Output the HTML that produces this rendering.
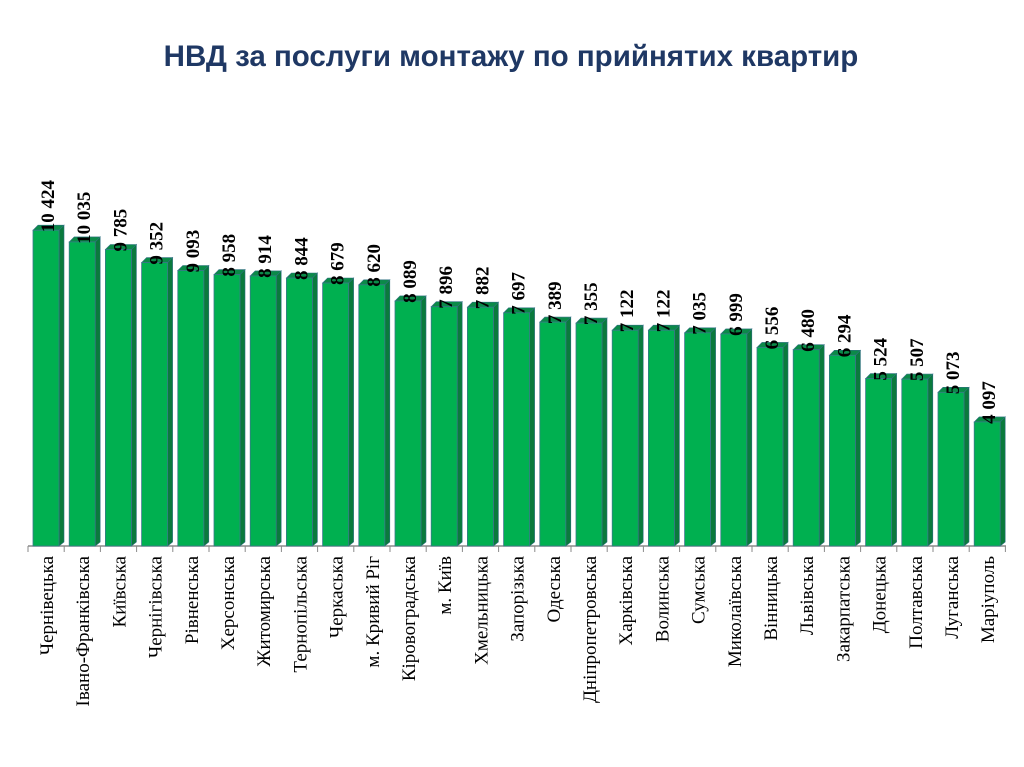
<!DOCTYPE html><html><head><meta charset="utf-8"><style>body{margin:0;background:#fff}svg{display:block}
.f{fill:#00b050;stroke:#3a7a8a;stroke-width:.8}.s{fill:#0a7a3c;stroke:#2f7080;stroke-width:.6}.t{fill:#0b8a48;stroke:#2f7080;stroke-width:.6}
.v{font-family:"Liberation Serif",serif;font-weight:bold;font-size:19px}.c{font-family:"Liberation Serif",serif;font-size:19px;text-anchor:end}</style></head><body>
<svg width="1024" height="767" xmlns="http://www.w3.org/2000/svg">
<text x="511" y="66" text-anchor="middle" font-family="Liberation Sans, sans-serif" font-weight="bold" font-size="29.5" fill="#1f3864">НВД за послуги монтажу по прийнятих квартир</text>
<line x1="28" y1="546" x2="1006" y2="546" stroke="#8a8a8a" stroke-width="1.5"/>
<path stroke="#8a8a8a" d="M28 546v6M64.2 546v6M100.4 546v6M136.6 546v6M172.8 546v6M209 546v6M245.2 546v6M281.4 546v6M317.6 546v6M353.8 546v6M390 546v6M426.2 546v6M462.4 546v6M498.6 546v6M534.8 546v6M571 546v6M607.2 546v6M643.4 546v6M679.6 546v6M715.8 546v6M752 546v6M788.2 546v6M824.4 546v6M860.6 546v6M896.8 546v6M933 546v6M969.2 546v6M1005.4 546v6"/>
<g transform="translate(33,230.2)"><polygon class="s" points="26,0 31,-5 31,311.8 26,315.8"/><polygon class="t" points="0,0 5,-5 31,-5 26,0"/><rect class="f" width="26" height="315.8"/><text class="v" transform="translate(21,2) rotate(-90)">10 424</text><text class="c" transform="translate(20,325.8) rotate(-90)">Чернівецька</text></g>
<g transform="translate(69.2,241.9)"><polygon class="s" points="26,0 31,-5 31,300.1 26,304.1"/><polygon class="t" points="0,0 5,-5 31,-5 26,0"/><rect class="f" width="26" height="304.1"/><text class="v" transform="translate(21,2) rotate(-90)">10 035</text><text class="c" transform="translate(20,314.1) rotate(-90)">Івано-Франківська</text></g>
<g transform="translate(105.4,249.5)"><polygon class="s" points="26,0 31,-5 31,292.5 26,296.5"/><polygon class="t" points="0,0 5,-5 31,-5 26,0"/><rect class="f" width="26" height="296.5"/><text class="v" transform="translate(21,2) rotate(-90)">9 785</text><text class="c" transform="translate(20,306.5) rotate(-90)">Київська</text></g>
<g transform="translate(141.6,262.6)"><polygon class="s" points="26,0 31,-5 31,279.4 26,283.4"/><polygon class="t" points="0,0 5,-5 31,-5 26,0"/><rect class="f" width="26" height="283.4"/><text class="v" transform="translate(21,2) rotate(-90)">9 352</text><text class="c" transform="translate(20,293.4) rotate(-90)">Чернігівська</text></g>
<g transform="translate(177.8,270.5)"><polygon class="s" points="26,0 31,-5 31,271.5 26,275.5"/><polygon class="t" points="0,0 5,-5 31,-5 26,0"/><rect class="f" width="26" height="275.5"/><text class="v" transform="translate(21,2) rotate(-90)">9 093</text><text class="c" transform="translate(20,285.5) rotate(-90)">Рівненська</text></g>
<g transform="translate(214,274.6)"><polygon class="s" points="26,0 31,-5 31,267.4 26,271.4"/><polygon class="t" points="0,0 5,-5 31,-5 26,0"/><rect class="f" width="26" height="271.4"/><text class="v" transform="translate(21,2) rotate(-90)">8 958</text><text class="c" transform="translate(20,281.4) rotate(-90)">Херсонська</text></g>
<g transform="translate(250.2,275.9)"><polygon class="s" points="26,0 31,-5 31,266.1 26,270.1"/><polygon class="t" points="0,0 5,-5 31,-5 26,0"/><rect class="f" width="26" height="270.1"/><text class="v" transform="translate(21,2) rotate(-90)">8 914</text><text class="c" transform="translate(20,280.1) rotate(-90)">Житомирська</text></g>
<g transform="translate(286.4,278)"><polygon class="s" points="26,0 31,-5 31,264 26,268"/><polygon class="t" points="0,0 5,-5 31,-5 26,0"/><rect class="f" width="26" height="268"/><text class="v" transform="translate(21,2) rotate(-90)">8 844</text><text class="c" transform="translate(20,278) rotate(-90)">Тернопільська</text></g>
<g transform="translate(322.6,283)"><polygon class="s" points="26,0 31,-5 31,259 26,263"/><polygon class="t" points="0,0 5,-5 31,-5 26,0"/><rect class="f" width="26" height="263"/><text class="v" transform="translate(21,2) rotate(-90)">8 679</text><text class="c" transform="translate(20,273) rotate(-90)">Черкаська</text></g>
<g transform="translate(358.8,284.8)"><polygon class="s" points="26,0 31,-5 31,257.2 26,261.2"/><polygon class="t" points="0,0 5,-5 31,-5 26,0"/><rect class="f" width="26" height="261.2"/><text class="v" transform="translate(21,2) rotate(-90)">8 620</text><text class="c" transform="translate(20,271.2) rotate(-90)">м. Кривий Ріг</text></g>
<g transform="translate(395,300.9)"><polygon class="s" points="26,0 31,-5 31,241.1 26,245.1"/><polygon class="t" points="0,0 5,-5 31,-5 26,0"/><rect class="f" width="26" height="245.1"/><text class="v" transform="translate(21,2) rotate(-90)">8 089</text><text class="c" transform="translate(20,255.1) rotate(-90)">Кіровоградська</text></g>
<g transform="translate(431.2,306.7)"><polygon class="s" points="26,0 31,-5 31,235.3 26,239.3"/><polygon class="t" points="0,0 5,-5 31,-5 26,0"/><rect class="f" width="26" height="239.3"/><text class="v" transform="translate(21,2) rotate(-90)">7 896</text><text class="c" transform="translate(20,249.3) rotate(-90)">м. Київ</text></g>
<g transform="translate(467.4,307.2)"><polygon class="s" points="26,0 31,-5 31,234.8 26,238.8"/><polygon class="t" points="0,0 5,-5 31,-5 26,0"/><rect class="f" width="26" height="238.8"/><text class="v" transform="translate(21,2) rotate(-90)">7 882</text><text class="c" transform="translate(20,248.8) rotate(-90)">Хмельницька</text></g>
<g transform="translate(503.6,312.8)"><polygon class="s" points="26,0 31,-5 31,229.2 26,233.2"/><polygon class="t" points="0,0 5,-5 31,-5 26,0"/><rect class="f" width="26" height="233.2"/><text class="v" transform="translate(21,2) rotate(-90)">7 697</text><text class="c" transform="translate(20,243.2) rotate(-90)">Запорізька</text></g>
<g transform="translate(539.8,322.1)"><polygon class="s" points="26,0 31,-5 31,219.9 26,223.9"/><polygon class="t" points="0,0 5,-5 31,-5 26,0"/><rect class="f" width="26" height="223.9"/><text class="v" transform="translate(21,2) rotate(-90)">7 389</text><text class="c" transform="translate(20,233.9) rotate(-90)">Одеська</text></g>
<g transform="translate(576,323.1)"><polygon class="s" points="26,0 31,-5 31,218.9 26,222.9"/><polygon class="t" points="0,0 5,-5 31,-5 26,0"/><rect class="f" width="26" height="222.9"/><text class="v" transform="translate(21,2) rotate(-90)">7 355</text><text class="c" transform="translate(20,232.9) rotate(-90)">Дніпропетровська</text></g>
<g transform="translate(612.2,330.2)"><polygon class="s" points="26,0 31,-5 31,211.8 26,215.8"/><polygon class="t" points="0,0 5,-5 31,-5 26,0"/><rect class="f" width="26" height="215.8"/><text class="v" transform="translate(21,2) rotate(-90)">7 122</text><text class="c" transform="translate(20,225.8) rotate(-90)">Харківська</text></g>
<g transform="translate(648.4,330.2)"><polygon class="s" points="26,0 31,-5 31,211.8 26,215.8"/><polygon class="t" points="0,0 5,-5 31,-5 26,0"/><rect class="f" width="26" height="215.8"/><text class="v" transform="translate(21,2) rotate(-90)">7 122</text><text class="c" transform="translate(20,225.8) rotate(-90)">Волинська</text></g>
<g transform="translate(684.6,332.8)"><polygon class="s" points="26,0 31,-5 31,209.2 26,213.2"/><polygon class="t" points="0,0 5,-5 31,-5 26,0"/><rect class="f" width="26" height="213.2"/><text class="v" transform="translate(21,2) rotate(-90)">7 035</text><text class="c" transform="translate(20,223.2) rotate(-90)">Сумська</text></g>
<g transform="translate(720.8,333.9)"><polygon class="s" points="26,0 31,-5 31,208.1 26,212.1"/><polygon class="t" points="0,0 5,-5 31,-5 26,0"/><rect class="f" width="26" height="212.1"/><text class="v" transform="translate(21,2) rotate(-90)">6 999</text><text class="c" transform="translate(20,222.1) rotate(-90)">Миколаївська</text></g>
<g transform="translate(757,347.4)"><polygon class="s" points="26,0 31,-5 31,194.6 26,198.6"/><polygon class="t" points="0,0 5,-5 31,-5 26,0"/><rect class="f" width="26" height="198.6"/><text class="v" transform="translate(21,2) rotate(-90)">6 556</text><text class="c" transform="translate(20,208.6) rotate(-90)">Вінницька</text></g>
<g transform="translate(793.2,349.7)"><polygon class="s" points="26,0 31,-5 31,192.3 26,196.3"/><polygon class="t" points="0,0 5,-5 31,-5 26,0"/><rect class="f" width="26" height="196.3"/><text class="v" transform="translate(21,2) rotate(-90)">6 480</text><text class="c" transform="translate(20,206.3) rotate(-90)">Львівська</text></g>
<g transform="translate(829.4,355.3)"><polygon class="s" points="26,0 31,-5 31,186.7 26,190.7"/><polygon class="t" points="0,0 5,-5 31,-5 26,0"/><rect class="f" width="26" height="190.7"/><text class="v" transform="translate(21,2) rotate(-90)">6 294</text><text class="c" transform="translate(20,200.7) rotate(-90)">Закарпатська</text></g>
<g transform="translate(865.6,378.6)"><polygon class="s" points="26,0 31,-5 31,163.4 26,167.4"/><polygon class="t" points="0,0 5,-5 31,-5 26,0"/><rect class="f" width="26" height="167.4"/><text class="v" transform="translate(21,2) rotate(-90)">5 524</text><text class="c" transform="translate(20,177.4) rotate(-90)">Донецька</text></g>
<g transform="translate(901.8,379.1)"><polygon class="s" points="26,0 31,-5 31,162.9 26,166.9"/><polygon class="t" points="0,0 5,-5 31,-5 26,0"/><rect class="f" width="26" height="166.9"/><text class="v" transform="translate(21,2) rotate(-90)">5 507</text><text class="c" transform="translate(20,176.9) rotate(-90)">Полтавська</text></g>
<g transform="translate(938,392.3)"><polygon class="s" points="26,0 31,-5 31,149.7 26,153.7"/><polygon class="t" points="0,0 5,-5 31,-5 26,0"/><rect class="f" width="26" height="153.7"/><text class="v" transform="translate(21,2) rotate(-90)">5 073</text><text class="c" transform="translate(20,163.7) rotate(-90)">Луганська</text></g>
<g transform="translate(974.2,421.9)"><polygon class="s" points="26,0 31,-5 31,120.1 26,124.1"/><polygon class="t" points="0,0 5,-5 31,-5 26,0"/><rect class="f" width="26" height="124.1"/><text class="v" transform="translate(21,2) rotate(-90)">4 097</text><text class="c" transform="translate(20,134.1) rotate(-90)">Маріуполь</text></g>
</svg></body></html>
